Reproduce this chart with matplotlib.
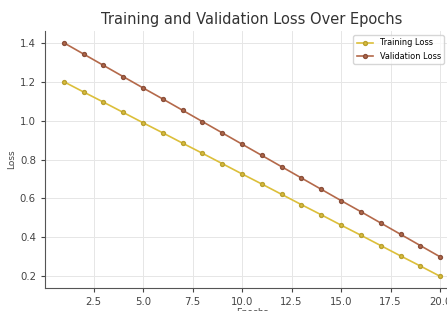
import matplotlib
matplotlib.use("Agg")
import matplotlib.pyplot as plt

epochs = list(range(1, 21))
training_loss = [1.200, 1.147, 1.095, 1.042, 0.989, 0.937, 0.884, 0.832, 0.779, 0.726,
                 0.674, 0.621, 0.568, 0.516, 0.463, 0.411, 0.358, 0.305, 0.253, 0.200]
validation_loss = [1.400, 1.342, 1.284, 1.226, 1.168, 1.111, 1.053, 0.995, 0.937, 0.879,
                   0.821, 0.763, 0.705, 0.647, 0.589, 0.532, 0.474, 0.416, 0.358, 0.300]
title = "Training and Validation Loss Over Epochs"
xlabel = "Epochs"
ylabel = "Loss"
labels = ["Training Loss", "Validation Loss"]

fig = plt.figure(figsize=(4.47, 3.11), dpi=100)
ax = fig.add_axes([0.1007, 0.074, 0.926, 0.826])

ax.plot(epochs, training_loss, marker="o", markersize=2.8, linewidth=1.2,
        color="#dcbf3a", markeredgecolor="#b9a030", label=labels[0])
ax.plot(epochs, validation_loss, marker="o", markersize=2.8, linewidth=1.2,
        color="#b4694a", markeredgecolor="#8a4f3a", label=labels[1])

ax.set_title(title, fontsize=10.5, color="#333333", pad=5)
ax.set_xlabel(xlabel, fontsize=6.5, color="#444444", labelpad=1)
ax.set_ylabel(ylabel, fontsize=6.5, color="#444444", labelpad=3)
ax.tick_params(labelsize=7.3, colors="#444444", length=3)
ax.set_xticks([2.5, 5.0, 7.5, 10.0, 12.5, 15.0, 17.5, 20.0])
ax.set_yticks([0.2, 0.4, 0.6, 0.8, 1.0, 1.2, 1.4])
ax.grid(True, color="#e6e6e6", linewidth=0.7)
for s in ["top", "right"]:
    ax.spines[s].set_visible(False)
for s in ["left", "bottom"]:
    ax.spines[s].set_color("#555555")
ax.legend(loc="upper left", fontsize=5.9, frameon=True,
          bbox_to_anchor=(0.735, 1.0), handlelength=2.0)

fig.savefig("out.png", dpi=100)
